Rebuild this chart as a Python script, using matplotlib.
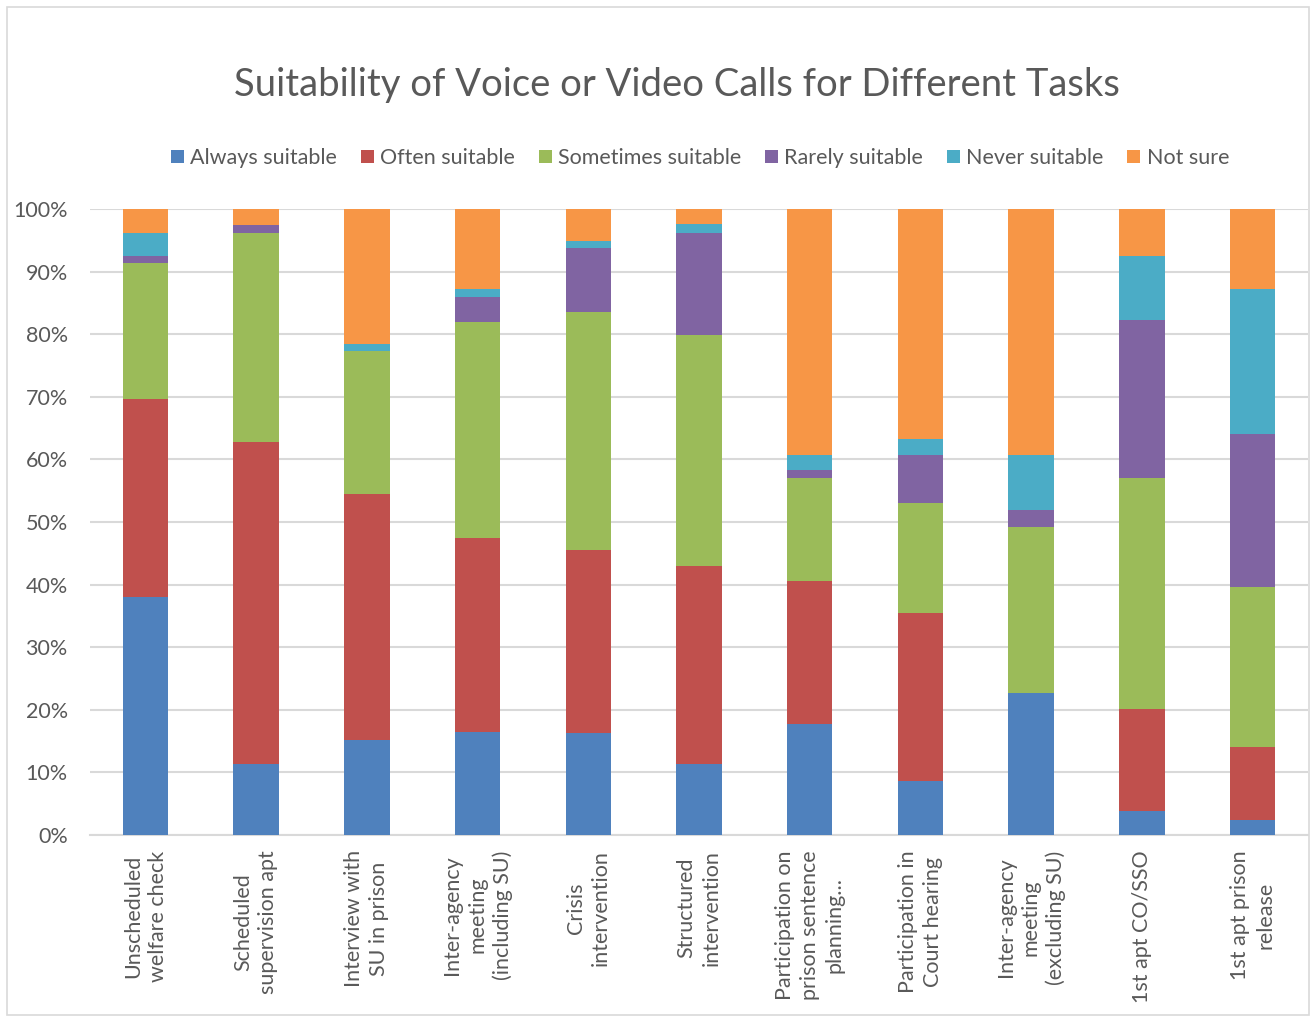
import numpy as np
import matplotlib
matplotlib.use("Agg")
import matplotlib.pyplot as plt
from matplotlib.patches import Rectangle

plt.rcParams['font.family'] = ['Lato', 'DejaVu Sans']

tasks = [
    "Unscheduled\nwelfare check",
    "Scheduled\nsupervision apt",
    "Interview with\nSU in prison",
    "Inter-agency\nmeeting\n(including SU)",
    "Crisis\nintervention",
    "Structured\nintervention",
    "Participation on\nprison sentence\nplanning...",
    "Participation in\nCourt hearing",
    "Inter-agency\nmeeting\n(excluding SU)",
    "1st apt CO/SSO",
    "1st apt prison\nrelease",
]

# percentages
always = [38.0, 11.4, 15.1, 16.5, 16.3, 11.4, 17.7, 8.7, 22.7, 3.8, 2.4]
often = [31.6, 51.4, 39.3, 30.9, 29.3, 31.5, 22.8, 26.7, 0.0, 16.4, 11.7]
sometimes = [21.7, 33.3, 22.9, 34.6, 38.0, 36.9, 16.6, 17.7, 26.5, 36.9, 25.5]
rarely = [1.2, 1.3, 0.0, 3.9, 10.1, 16.4, 1.2, 7.6, 2.7, 25.2, 24.4]
never = [3.6, 0.0, 1.2, 1.3, 1.2, 1.4, 2.4, 2.5, 8.8, 10.2, 23.2]
not_sure = [3.9, 2.6, 21.5, 12.8, 5.1, 2.4, 39.3, 36.8, 39.3, 7.5, 12.8]

series = [
    ("Always suitable", always, "#4F81BD"),
    ("Often suitable", often, "#C0504D"),
    ("Sometimes suitable", sometimes, "#9BBB59"),
    ("Rarely suitable", rarely, "#8064A2"),
    ("Never suitable", never, "#4BACC6"),
    ("Not sure", not_sure, "#F79646"),
]

W, H = 1311, 1018
fig = plt.figure(figsize=(W / 100, H / 100), dpi=100)
ax = fig.add_axes([90 / W, 1 - 835 / H, 1218 / W, 626 / H])

x = np.arange(len(tasks))
bottom = np.zeros(len(tasks))
for name, vals, col in series:
    v = np.array(vals)
    ax.bar(x, v, 0.41, bottom=bottom, color=col, label=name, zorder=3)
    bottom += v

ax.set_xlim(-0.5, len(tasks) - 0.5)
ax.set_ylim(0, 100)
ax.set_yticks(np.arange(0, 101, 10))
ax.set_yticklabels([f"{t}%" for t in range(0, 101, 10)], fontsize=15.5, color="#595959")
ax.set_xticks(x)
ax.set_xticklabels(tasks, rotation=90, fontsize=15.5, color="#595959",
                   ha="center", va="top", multialignment="center", linespacing=1.3)
ax.tick_params(length=0)
ax.tick_params(axis="x", pad=11)
ax.tick_params(axis="y", pad=16)
ax.yaxis.grid(True, color="#d9d9d9", linewidth=1.5, zorder=0)
for s in ["top", "right", "left"]:
    ax.spines[s].set_visible(False)
ax.spines["bottom"].set_color("#d9d9d9")
ax.spines["bottom"].set_linewidth(1.5)

fig.text(677 / W, 1 - 85 / H, "Suitability of Voice or Video Calls for Different Tasks",
         ha="center", va="center", fontsize=27.5, color="#595959")

fig.legend(loc="center", bbox_to_anchor=(700 / W, 1 - 158 / H), ncol=6, frameon=False,
           fontsize=15.5, labelcolor="#595959", handlelength=0.6, handleheight=0.6,
           handletextpad=0.3, columnspacing=1.1)

fig.patches.append(Rectangle((7 / W, 3 / H), 1302 / W, 1008 / H, transform=fig.transFigure,
                             fill=False, edgecolor="#d9d9d9", linewidth=1.2))

fig.savefig("out.png", dpi=100, facecolor="white")
